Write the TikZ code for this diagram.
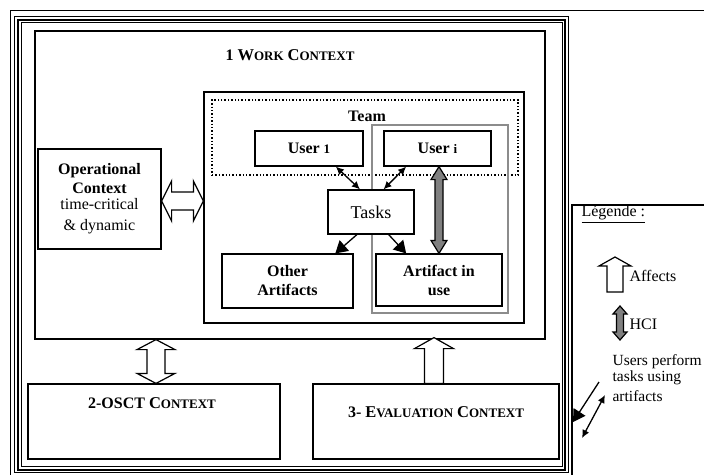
\documentclass[tikz,border=0pt]{standalone}
\usepackage{fontspec}
\setmainfont{Liberation Serif}
\usepackage{tikz}
\usetikzlibrary{calc}
\usetikzlibrary{arrows,arrows.meta}
\newcommand{\bigsc}[1]{{\fontsize{16.5}{17}\selectfont #1}}
\newcommand{\smsc}[1]{{\fontsize{13}{14}\selectfont #1}}
% block arrows: tip, tip, shaft half, head half, head length, style
\newcommand{\vdblarrow}[6]{%
  \draw[#6] (#1) -- ($(#1)+(#4,#5)$) -- ($(#1)+(#3,#5)$) -- ($(#2)+(#3,-#5)$) -- ($(#2)+(#4,-#5)$) -- (#2)
    -- ($(#2)+(-#4,-#5)$) -- ($(#2)+(-#3,-#5)$) -- ($(#1)+(-#3,#5)$) -- ($(#1)+(-#4,#5)$) -- cycle;}
\newcommand{\hdblarrow}[6]{%
  \draw[#6] (#1) -- ($(#1)+(#5,-#4)$) -- ($(#1)+(#5,-#3)$) -- ($(#2)+(-#5,-#3)$) -- ($(#2)+(-#5,-#4)$) -- (#2)
    -- ($(#2)+(-#5,#4)$) -- ($(#2)+(-#5,#3)$) -- ($(#1)+(#5,#3)$) -- ($(#1)+(#5,#4)$) -- cycle;}
\newcommand{\upblock}[6]{%
  \draw[#6] (#1) -- ($(#1)+(#4,#5)$) -- ($(#1)+(#3,#5)$) -- ($(#2)+(#3,0)$) -- ($(#2)+(-#3,0)$)
    -- ($(#1)+(-#3,#5)$) -- ($(#1)+(-#4,#5)$) -- cycle;}
\tikzset{
b/.style={
  rectangle,
  inner sep=0pt,
  align=center,
  draw=black,
  line width=1.2pt,
  fill=white,
  font=\fontsize{16}{19}\selectfont
  },
t/.style={
  inner sep=0pt,
  align=center,
  font=\fontsize{16}{19}\selectfont
  },
openarr/.style={draw=black,line width=1.2pt,fill=white,line join=miter},
hci/.style={draw=black,line width=1.2pt,fill=black!50,line join=miter},
small/.style={{Latex[length=8pt,width=7.5pt]}-{Latex[length=8pt,width=7.5pt]},line width=1.3pt},
big/.style={-{Triangle[length=12pt,width=14pt]},line width=1.3pt}
}

\begin{document}
\begin{tikzpicture}[x=1pt,y=-1pt,line width=1.2pt]
        \useasboundingbox (0,0) rectangle (704,474);
        \clip (0,0) rectangle (704,474);
        \draw[line width=0.8pt] (10,480) -- (10,10) -- (710,10);
        \draw[line width=0.8pt] (14.5,16.5) rectangle (568.5,472.5);
        \draw[line width=2pt] (18,19.5) rectangle (565,469.5);
        \draw[line width=0.8pt] (21.5,22.5) rectangle (562,466.5);
        \draw (572,480) -- (572,205) -- (710,205);

        \node[b,minimum width=510pt,minimum height=308pt] at (290,185) (work) {};
        \node[t] at (290,55) (worktitle) {\bfseries 1 \bigsc{W}\smsc{ORK}\ \bigsc{C}\smsc{ONTEXT}};
        \node[b,minimum width=320pt,minimum height=231pt] at (364,207.5) (group) {};
        \node[b,fill=none,dash pattern=on 1.4pt off 2pt,line width=1.6pt,minimum width=306pt,minimum height=75pt] at (365,137.5) (team) {};
        \node[t,font=\fontsize{16}{19}\selectfont\bfseries] at (367,116) (teamlabel) {Team};
        \node[b,fill=none,draw=black!45,line width=2pt,minimum width=136pt,minimum height=188pt] at (440,219) (use) {};
        \node[b,minimum width=108pt,minimum height=35pt] at (309,148.5) (user1) {\bfseries User {\fontsize{13}{14}\selectfont 1}};
        \node[b,minimum width=107pt,minimum height=35pt] at (437.5,148.5) (useri) {\bfseries User {\fontsize{13}{14}\selectfont i}};
        \node[b,minimum width=86pt,minimum height=44pt,font=\fontsize{18}{20}\selectfont] at (371,212) (tasks) {Tasks};
        \node[b,minimum width=131pt,minimum height=54pt] at (287.5,281) (other) {\bfseries Other\\\bfseries Artifacts};
        \node[b,minimum width=126pt,minimum height=52pt] at (439,280) (artif) {\bfseries Artifact in\\\bfseries use};
        \node[b,minimum width=123pt,minimum height=100pt] at (99.5,199) (oper) {\bfseries Operational\\\bfseries Context\\[-3pt]time-critical\\[2pt]\& dynamic};
        \node[b,minimum width=252pt,minimum height=75pt] at (154,421.5) (osct) {};
        \node[t] at (152,403) (oscttitle) {\bfseries 2-OSCT \bigsc{C}\smsc{ONTEXT}};
        \node[b,minimum width=246pt,minimum height=75pt] at (436,421.5) (eval) {};
        \node[t] at (436,412) (evaltitle) {\bfseries 3- \bigsc{E}\smsc{VALUATION}\ \bigsc{C}\smsc{ONTEXT}};

        \coordinate (opera) at ($(oper.east)+(0,2)$);
        \coordinate (operb) at (opera -| group.west);
        \hdblarrow{opera}{operb}{9}{20}{10}{openarr}
        \coordinate (oscta) at ($(work.south -| osct.north)+(2,0)$);
        \coordinate (osctb) at ($(osct.north)+(2,0)$);
        \vdblarrow{oscta}{osctb}{9}{19}{10}{openarr}
        \coordinate (evala) at ($(work.south -| eval.north)+(-2,-2)$);
        \coordinate (evalb) at ($(eval.north)+(-2,0)$);
        \upblock{evala}{evalb}{9.5}{19.5}{11}{openarr}
        \coordinate (hcia) at (useri.south -| artif.north);
        \coordinate (hcib) at (artif.north);
        \vdblarrow{hcia}{hcib}{4}{8}{13}{hci}

        \path[small]
        (user1.-34) edge [] node {} (tasks.116)
        (useri.-150) edge [] node {} (tasks.61)
        ;
        \path[big]
        (tasks.-122) edge [] node {} (other.30)
        (tasks.-52) edge [] node {} (artif.141)
        ;

        \node[t,anchor=south west] at (581,223) (legtitle) {\underline{Légende :}};
        \coordinate (affa) at (615,257);
        \coordinate (affb) at (615,292);
        \upblock{affa}{affb}{8}{16}{9}{openarr}
        \node[t,anchor=west] at (629,276) (affects) {Affects};
        \coordinate (hcla) at (620,306);
        \coordinate (hclb) at (620,340);
        \vdblarrow{hcla}{hclb}{3.5}{7}{8}{hci}
        \node[t,anchor=west] at (629,324) (hcilabel) {HCI};
        \node[t,anchor=north west,align=left,font=\fontsize{15.5}{16}\selectfont] at (612,354) (users) {Users perform\\tasks using\\[4pt]artifacts};
        \coordinate (l1a) at (599,382);
        \coordinate (l1b) at (573,422);
        \coordinate (l2a) at (605,395);
        \coordinate (l2b) at (582,438);
        \draw[big] (l1a) -- (l1b);
        \draw[small] (l2a) -- (l2b);
\end{tikzpicture}
\end{document}
